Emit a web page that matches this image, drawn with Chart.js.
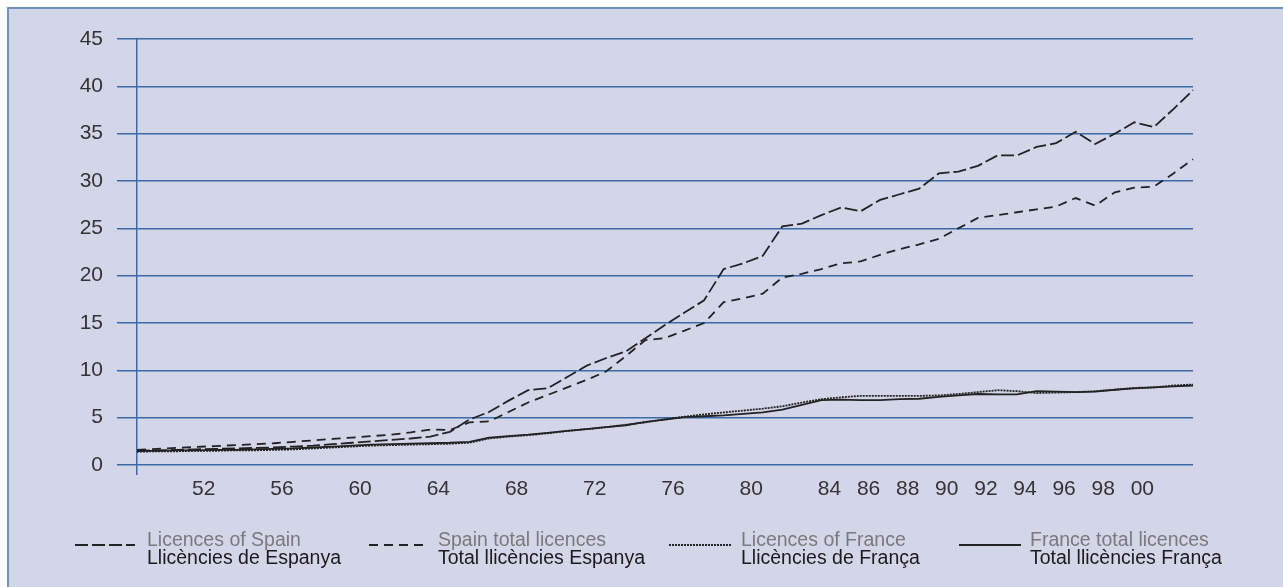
<!DOCTYPE html>
<html>
<head>
<meta charset="utf-8">
<script src="https://cdn.jsdelivr.net/npm/chart.js"></script>
<style>
  body { margin: 0; background: #fff; }
  #wrap { position: relative; width: 1283px; height: 587px; overflow: hidden; }
  #panel {
    position: absolute; left: 7px; top: 7px; right: -10px; bottom: -10px;
    background: #d3d6e8; border-left: 2px solid #6e90c2; border-top: 2px solid #6e90c2;
  }
  #chart { position: absolute; left: 0; top: 0; }
  .item { position: absolute; top: 530px; font-family: "Liberation Sans", Arial, sans-serif; font-size: 19.5px; line-height: 18px; }
  .item .en { color: #7a7a7a; }
  .item .ca { color: #1a1a1a; }
  .sample { position: absolute; top: 544px; height: 2px; }
</style>
</head>
<body>
<div id="wrap">
  <div id="panel"></div>
  <canvas id="chart" width="1283" height="587"></canvas>
  <div id="legend"></div>
</div>
<script>
// years 1949 - 2003
const years = [
  1949, 1950, 1951, 1952, 1953, 1954, 1955, 1956, 1957, 1958,
  1959, 1960, 1961, 1962, 1963, 1964, 1965, 1966, 1967, 1968,
  1969, 1970, 1971, 1972, 1973, 1974, 1975, 1976, 1977, 1978,
  1979, 1980, 1981, 1982, 1983, 1984, 1985, 1986, 1987, 1988,
  1989, 1990, 1991, 1992, 1993, 1994, 1995, 1996, 1997, 1998,
  1999, 2000, 2001, 2002, 2003
];
const shownYears = [1952, 1956, 1960, 1964, 1968, 1972, 1976, 1980, 1984, 1986, 1988, 1990, 1992, 1994, 1996, 1998, 2000];
const yTicks = [0, 5, 10, 15, 20, 25, 30, 35, 40, 45];

const spainLicences = [
  1.5, 1.55, 1.6, 1.65, 1.7, 1.75, 1.8, 1.85, 1.95, 2.05,
  2.2, 2.35, 2.5, 2.65, 2.8, 3.0, 3.5, 4.8, 5.6, 6.8,
  7.9, 8.1, 9.3, 10.5, 11.3, 12.0, 13.4, 14.8, 16.1, 17.4,
  20.7, 21.3, 22.1, 25.2, 25.5, 26.4, 27.2, 26.8, 28.0, 28.6,
  29.2, 30.8, 31.0, 31.6, 32.7, 32.7, 33.6, 34.0, 35.2, 33.9,
  35.0, 36.2, 35.7, 37.6, 39.6
];
const spainTotal = [
  1.6, 1.7, 1.8, 1.9, 2.0, 2.1, 2.2, 2.3, 2.45, 2.6,
  2.75, 2.9, 3.05, 3.2, 3.45, 3.75, 3.7, 4.5, 4.6, 5.6,
  6.6, 7.4, 8.2, 9.0, 9.9, 11.5, 13.2, 13.4, 14.2, 15.0,
  17.2, 17.6, 18.1, 19.8, 20.2, 20.7, 21.3, 21.5, 22.2, 22.8,
  23.3, 23.9, 25.0, 26.1, 26.4, 26.7, 27.0, 27.3, 28.2, 27.4,
  28.8, 29.3, 29.4, 30.8, 32.3
];
const franceLicences = [
  1.4, 1.45, 1.45, 1.5, 1.5, 1.55, 1.55, 1.6, 1.65, 1.75,
  1.85, 1.95, 2.05, 2.1, 2.15, 2.2, 2.25, 2.35, 2.8, 3.0,
  3.15, 3.35, 3.6, 3.8, 4.0, 4.25, 4.5, 4.85, 5.1, 5.35,
  5.55, 5.75, 5.95, 6.2, 6.6, 6.95, 7.15, 7.3, 7.3, 7.3,
  7.3, 7.35, 7.5, 7.7, 7.9, 7.8, 7.6, 7.65, 7.7, 7.8,
  7.95, 8.15, 8.2, 8.4, 8.5
];
const franceTotal = [
  1.5, 1.5, 1.55, 1.55, 1.6, 1.6, 1.65, 1.7, 1.75, 1.85,
  1.95, 2.05, 2.15, 2.2, 2.25, 2.3, 2.35, 2.45, 2.9, 3.05,
  3.2, 3.4, 3.6, 3.8, 4.0, 4.2, 4.55, 4.8, 5.05, 5.15,
  5.25, 5.4, 5.55, 5.85, 6.35, 6.85, 6.9, 6.85, 6.85, 6.95,
  7.0, 7.2, 7.35, 7.5, 7.45, 7.45, 7.8, 7.75, 7.7, 7.75,
  7.95, 8.1, 8.2, 8.3, 8.4
];

const legendItems = [
  { en: "Licences of Spain", ca: "Llicències de Espanya", x: 75, w: 60, tx: 147, bg: "repeating-linear-gradient(to right, #222 0 13px, transparent 13px 17px)" },
  { en: "Spain total licences", ca: "Total llicències Espanya", x: 369, w: 56, tx: 438, bg: "repeating-linear-gradient(to right, #222 0 9px, transparent 9px 15px)" },
  { en: "Licences of France", ca: "Llicències de França", x: 669, w: 62, tx: 741, bg: "repeating-linear-gradient(to right, #222 0 2px, transparent 2px 3px)" },
  { en: "France total licences", ca: "Total llicències França", x: 959, w: 62, tx: 1030, bg: "#222" }
];

const gridBlue = "#3a6aa8";
const lineColor = "#222";

function line(label, data, dash) {
  return {
    label: label,
    data: data,
    borderColor: lineColor,
    borderWidth: 1.8,
    borderDash: dash,
    pointRadius: 0,
    tension: 0,
    fill: false
  };
}

new Chart(document.getElementById("chart"), {
  type: "line",
  data: {
    labels: years,
    datasets: [
      line(legendItems[0].en, spainLicences, [13, 4]),
      line(legendItems[1].en, spainTotal, [9, 6]),
      line(legendItems[3].en, franceTotal, []),
      line(legendItems[2].en, franceLicences, [2, 1])
    ]
  },
  options: {
    responsive: false,
    animation: false,
    layout: { padding: { left: 0, right: 90, top: 39, bottom: 0 } },
    plugins: { legend: { display: false }, tooltip: { enabled: false } },
    scales: {
      x: {
        type: "category",
        offset: false,
        border: { display: false },
        grid: {
          color: (ctx) => (ctx.index === 0 ? gridBlue : "transparent"),
          lineWidth: 1.5,
          tickLength: 10,
          drawOnChartArea: true
        },
        ticks: {
          autoSkip: false,
          maxRotation: 0,
          minRotation: 0,
          padding: 2,
          labelOffset: 8,
          color: "#333",
          font: { family: "Liberation Sans, Arial, sans-serif", size: 21 },
          callback: function (value) {
            const yr = Number(this.getLabelForValue(value));
            return shownYears.includes(yr) ? String(yr).slice(2) : "";
          }
        },
        afterFit: (scale) => { scale.height = 122; }
      },
      y: {
        min: 0,
        max: 45,
        border: { display: false },
        grid: { color: gridBlue, lineWidth: 1.5, tickLength: 20 },
        afterBuildTicks: (scale) => { scale.ticks = yTicks.map((v) => ({ value: v })); },
        ticks: {
          padding: 14,
          color: "#333",
          font: { family: "Liberation Sans, Arial, sans-serif", size: 21 }
        },
        afterFit: (scale) => { scale.width = 137; }
      }
    }
  }
});

// legend below the chart
const legend = document.getElementById("legend");
legendItems.forEach((it) => {
  const s = document.createElement("div");
  s.className = "sample";
  s.style.left = it.x + "px";
  s.style.width = it.w + "px";
  s.style.background = it.bg;
  legend.appendChild(s);

  const t = document.createElement("div");
  t.className = "item";
  t.style.left = it.tx + "px";
  t.innerHTML = '<div class="en">' + it.en + '</div><div class="ca">' + it.ca + "</div>";
  legend.appendChild(t);
});
</script>
</body>
</html>
